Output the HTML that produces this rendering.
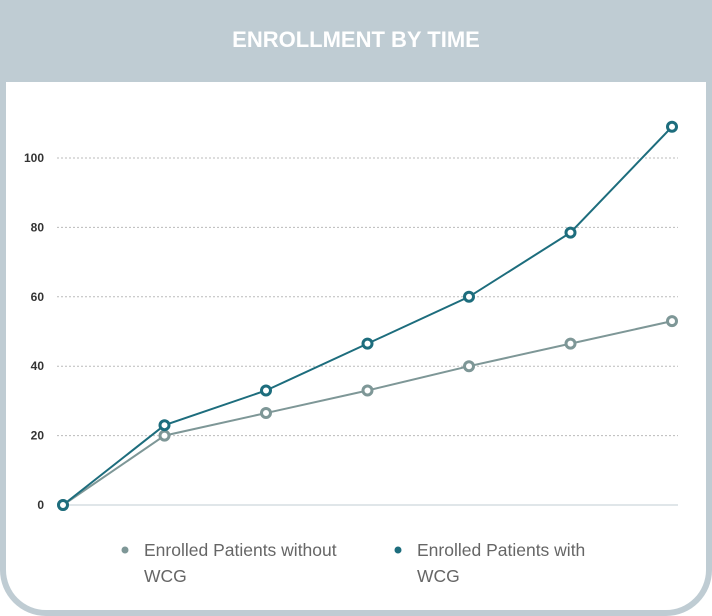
<!DOCTYPE html>
<html><head><meta charset="utf-8"><style>
body{margin:0;width:712px;height:616px;background:#fff;font-family:"Liberation Sans",sans-serif;overflow:hidden}
#frame{position:absolute;left:0;top:0;width:712px;height:616px;background:#bfccd3;border-radius:0 0 46px 46px}
#panel{position:absolute;left:6px;top:82px;width:700px;height:528px;background:#fff;border-radius:0 0 40px 40px}
#title{position:absolute;left:0;top:27px;width:712px;text-align:center;color:#fff;font-weight:bold;font-size:22px}
svg{position:absolute;left:0;top:0}
</style></head><body>
<div id="frame">
<div id="title">ENROLLMENT BY TIME</div>
<div id="panel"></div>
</div>
<svg id="chart" width="712" height="616"></svg>
<script>
const categories=["t0","t1","t2","t3","t4","t5","t6"];
const withoutWCG=[0,20,26.5,33,40,46.5,53];
const withWCG=[0,23,33,46.5,60,78.5,109];
const yTicks=[0,20,40,60,80,100];
const seriesNames=["Enrolled Patients without WCG","Enrolled Patients with WCG"];
const NS="http://www.w3.org/2000/svg";
const svg=document.getElementById('chart');
const x=i=>63+i*(672-63)/(categories.length-1);
const y=v=>505-v*3.47;
function mk(t,a){const e=document.createElementNS(NS,t);for(const k in a)e.setAttribute(k,a[k]);svg.appendChild(e);return e;}
yTicks.forEach(t=>{
 const l=mk('line',{x1:57,x2:678,y1:y(t),y2:y(t),stroke:t===0?'#d5dde2':'#bbb','stroke-width':t===0?1.5:1,'stroke-dasharray':t===0?'':'2,2'});
 
 
 const tx=mk('text',{x:44,y:y(t)+4,'text-anchor':'end','font-size':12,'font-weight':'bold',fill:'#333'});
 tx.textContent=t;
 
 
});
function series(vals,color,name){
 const p=mk('polyline',{points:vals.map((v,i)=>x(i)+','+y(v)).join(' '),fill:'none',stroke:color,'stroke-width':2});
 
 
 vals.forEach((v,i)=>{
  const c=mk('circle',{cx:x(i),cy:y(v),r:4.5,fill:'#fff',stroke:color,'stroke-width':3});
  
  
 });
}
series(withoutWCG,'#7e9797','without-wcg');
series(withWCG,'#1d6d7d','with-wcg');
[[125,'#7e9797',seriesNames[0]],[398,'#1d6d7d',seriesNames[1]]].forEach(([lx,c,n],k)=>{
 const d=mk('circle',{cx:lx,cy:550,r:3.5,fill:c});
 
 
 const words=n.split(' ');
 const t=mk('text',{x:lx+19,y:556,'font-size':17.5,fill:'#666'});
 t.textContent=words.slice(0,3).join(' ');
 
 
 const t2=mk('text',{x:lx+19,y:582,'font-size':17.5,fill:'#666'});
 t2.textContent=words.slice(3).join(' ');
 
 
});
</script>
</body></html>
